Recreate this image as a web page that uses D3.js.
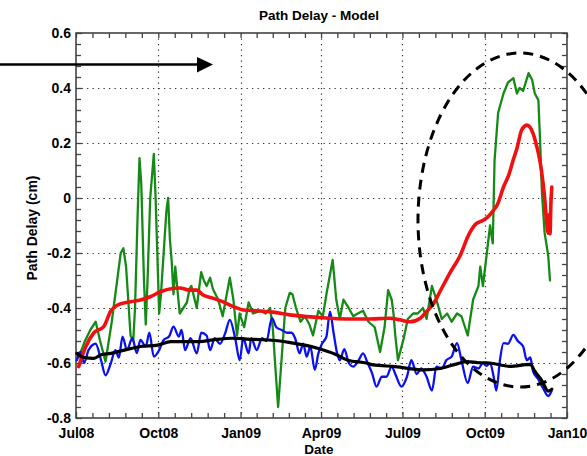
<!DOCTYPE html>
<html>
<head>
<meta charset="utf-8">
<script src="https://cdn.jsdelivr.net/npm/d3@7"></script>
<style>
  html, body { margin: 0; padding: 0; background: #fff; }
  svg { display: block; }
  text { font-family: "Liberation Sans", Arial, Helvetica, sans-serif; font-weight: bold; fill: #000; }
</style>
</head>
<body>
<svg id="chart" width="587" height="456"></svg>
<script>
// ---------- DATA (x = days since 2008-07-01, y = path delay in cm) ----------
const chartTitle = "Path Delay - Model";
const xAxisLabel = "Date";
const yAxisLabel = "Path Delay (cm)";
const xTickLabels = ["Jul08", "Oct08", "Jan09", "Apr09", "Jul09", "Oct09", "Jan10"];
const xTickDates = ["2008-07-01", "2008-10-01", "2009-01-01", "2009-04-01", "2009-07-01", "2009-10-01", "2010-01-01"];
const yTickValues = [-0.8, -0.6, -0.4, -0.2, 0, 0.2, 0.4, 0.6];
const yTickLabels = ["-0.8", "-0.6", "-0.4", "-0.2", "0", "0.2", "0.4", "0.6"];

const greenSeries = [
  [3,-0.58],[10,-0.52],[16,-0.48],[22,-0.45],[27,-0.52],[33,-0.595],[40,-0.45],[46,-0.30],[50,-0.20],[53,-0.183],
  [56,-0.25],[61,-0.50],[64,-0.52],[66,-0.40],[69,-0.05],[71,0.145],[73,0.05],[76,-0.30],[78,-0.46],[80,-0.30],
  [83,0.0],[87,0.16],[89,0.0],[93,-0.42],[95,-0.35],[98,-0.20],[101,-0.05],[103,0.0],[105,-0.15],[107,-0.23],
  [109,-0.35],[111,-0.25],[113,-0.32],[116,-0.42],[120,-0.40],[124,-0.38],[127,-0.33],[129,-0.32],[135,-0.40],
  [138,-0.32],[140,-0.27],[143,-0.30],[146,-0.32],[150,-0.29],[153,-0.33],[159,-0.37],[164,-0.43],[168,-0.36],
  [172,-0.29],[176,-0.37],[180,-0.50],[183,-0.42],[188,-0.47],[193,-0.38],[198,-0.42],[206,-0.41],[212,-0.42],
  [217,-0.40],[220,-0.47],[223,-0.62],[226,-0.76],[230,-0.58],[234,-0.40],[239,-0.345],[242,-0.35],[246,-0.40],
  [251,-0.45],[256,-0.43],[261,-0.46],[265,-0.50],[271,-0.41],[276,-0.43],[280,-0.35],[287,-0.225],[291,-0.37],
  [295,-0.44],[299,-0.37],[304,-0.395],[310,-0.43],[315,-0.42],[321,-0.41],[327,-0.45],[334,-0.47],[340,-0.56],
  [345,-0.47],[349,-0.335],[353,-0.37],[355,-0.42],[357,-0.50],[360,-0.59],[366,-0.516],[371,-0.44],[377,-0.42],
  [382,-0.42],[388,-0.40],[392,-0.44],[398,-0.32],[403,-0.37],[409,-0.44],[415,-0.42],[420,-0.45],[426,-0.42],
  [431,-0.43],[438,-0.50],[444,-0.37],[450,-0.32],[452,-0.25],[455,-0.32],[459,-0.21],[463,-0.10],[466,-0.165],
  [468,0.138],[472,0.31],[478,0.38],[483,0.42],[489,0.436],[493,0.38],[496,0.40],[500,0.39],[506,0.454],
  [510,0.43],[513,0.38],[517,0.356],[519,0.20],[521,0.018],[524,-0.127],[528,-0.21],[530,-0.30]
];

const blueSeries = [
  [1,-0.59],[5,-0.56],[9,-0.60],[14,-0.553],[22,-0.53],[28,-0.59],[33,-0.645],[39,-0.60],[44,-0.553],[48,-0.58],
  [52,-0.504],[57,-0.553],[63,-0.51],[68,-0.564],[72,-0.516],[78,-0.54],[82,-0.49],[87,-0.577],[93,-0.553],
  [98,-0.516],[104,-0.504],[109,-0.468],[115,-0.504],[118,-0.48],[122,-0.553],[128,-0.51],[135,-0.565],[140,-0.49],
  [146,-0.50],[150,-0.553],[155,-0.51],[161,-0.53],[167,-0.49],[172,-0.443],[178,-0.51],[183,-0.59],[187,-0.51],
  [193,-0.565],[196,-0.51],[202,-0.553],[208,-0.51],[213,-0.52],[219,-0.437],[224,-0.47],[230,-0.48],[236,-0.49],
  [241,-0.49],[245,-0.51],[250,-0.565],[254,-0.53],[258,-0.577],[262,-0.54],[267,-0.625],[271,-0.565],[275,-0.53],
  [280,-0.504],[284,-0.413],[288,-0.49],[292,-0.565],[295,-0.59],[300,-0.55],[305,-0.60],[310,-0.613],[316,-0.59],
  [321,-0.565],[326,-0.60],[331,-0.637],[336,-0.686],[342,-0.65],[347,-0.65],[353,-0.613],[357,-0.64],[364,-0.686],
  [370,-0.65],[375,-0.59],[381,-0.64],[386,-0.62],[392,-0.65],[398,-0.70],[403,-0.613],[409,-0.62],[414,-0.59],
  [420,-0.577],[426,-0.528],[431,-0.59],[438,-0.673],[444,-0.613],[450,-0.62],[455,-0.60],[459,-0.61],[463,-0.60],
  [467,-0.65],[470,-0.70],[474,-0.59],[478,-0.528],[483,-0.53],[489,-0.498],[494,-0.52],[500,-0.54],[504,-0.59],
  [508,-0.58],[511,-0.63],[517,-0.66],[522,-0.69],[528,-0.72],[532,-0.70]
];

const redSeries = [
  [3,-0.613],[11,-0.54],[20,-0.49],[31,-0.468],[39,-0.41],[46,-0.39],[61,-0.377],[72,-0.371],[83,-0.359],
  [95,-0.34],[110,-0.328],[116,-0.327],[127,-0.335],[135,-0.335],[142,-0.353],[153,-0.364],[164,-0.377],
  [176,-0.395],[187,-0.407],[202,-0.41],[220,-0.415],[239,-0.425],[270,-0.434],[308,-0.44],[326,-0.44],
  [351,-0.437],[362,-0.443],[373,-0.45],[385,-0.437],[392,-0.413],[400,-0.383],[407,-0.34],[418,-0.273],
  [429,-0.213],[440,-0.128],[448,-0.092],[452,-0.086],[459,-0.073],[467,-0.044],[471,-0.025],[478,0.04],
  [484,0.085],[489,0.14],[493,0.18],[498,0.245],[502,0.262],[504,0.265],[507,0.26],[511,0.235],[515,0.19],
  [519,0.13],[522,0.06],[524,0.0],[526,-0.08],[528,-0.128],[529,-0.06],[530,-0.13],[531,-0.02],[532,0.04]
];

const blackSeries = [
  [1,-0.565],[9,-0.58],[20,-0.583],[28,-0.57],[39,-0.565],[54,-0.553],[72,-0.54],[91,-0.535],[106,-0.522],
  [121,-0.522],[138,-0.522],[153,-0.516],[175,-0.51],[191,-0.513],[213,-0.516],[228,-0.52],[243,-0.528],
  [256,-0.535],[271,-0.547],[290,-0.568],[304,-0.59],[326,-0.601],[332,-0.607],[357,-0.613],[388,-0.625],
  [407,-0.62],[426,-0.603],[437,-0.595],[452,-0.599],[459,-0.599],[485,-0.612],[508,-0.605],[513,-0.63],
  [521,-0.665],[528,-0.702],[532,-0.695]
];

// ---------- LAYOUT ----------
const svg = d3.select("#chart");
const startDate = new Date(Date.UTC(2008, 6, 1));
const endDate = new Date(Date.UTC(2010, 0, 1));
const x = d3.scaleUtc().domain([startDate, endDate]).range([76, 567]);
const y = d3.scaleLinear().domain([-0.8, 0.6]).range([418, 33]);

const dayToDate = d => new Date(startDate.getTime() + d * 86400000);
const majorDates = xTickDates.map(s => new Date(s + "T00:00:00Z"));

// minor ticks (4 between majors)
const xMinor = [];
for (let i = 0; i < majorDates.length - 1; i++) {
  const a = majorDates[i].getTime(), b = majorDates[i + 1].getTime();
  for (let k = 1; k < 5; k++) xMinor.push(new Date(a + (b - a) * k / 5));
}
const yMinor = [];
for (let i = 0; i < yTickValues.length - 1; i++) {
  for (let k = 1; k < 5; k++) yMinor.push(yTickValues[i] + (yTickValues[i + 1] - yTickValues[i]) * k / 5);
}

const x0 = x.range()[0], x1 = x.range()[1], y0 = y.range()[0], y1 = y.range()[1];

// grid
const grid = svg.append("g").attr("stroke", "#333").attr("stroke-width", 1.2).attr("stroke-dasharray", "1.3,4.2");
grid.selectAll(".vg").data(majorDates.slice(1, -1)).join("line")
  .attr("x1", d => Math.round(x(d)) + 0.5).attr("x2", d => Math.round(x(d)) + 0.5)
  .attr("y1", y1).attr("y2", y0);
grid.selectAll(".hg").data(yTickValues.slice(1, -1)).join("line")
  .attr("y1", d => Math.round(y(d)) + 0.5).attr("y2", d => Math.round(y(d)) + 0.5)
  .attr("x1", x0).attr("x2", x1);

// axes with inward ticks (bottom/top/left/right)
const axisColor = "#444";
function styleAxis(g) {
  g.select(".domain").remove();
  g.selectAll("line").attr("stroke", axisColor).attr("stroke-width", 1.3);
}
const bottomMajor = d3.axisBottom(x).tickValues(majorDates).tickSize(-6).tickFormat((d, i) => xTickLabels[i]).tickPadding(10);
const gb = svg.append("g").attr("transform", `translate(0,${y0})`).call(bottomMajor);
gb.call(styleAxis);
gb.selectAll("text").attr("font-size", 14).attr("font-weight", "bold").attr("font-family", "Liberation Sans, Arial, sans-serif").attr("fill", "#000");
svg.append("g").attr("transform", `translate(0,${y0})`).call(d3.axisBottom(x).tickValues(xMinor).tickSize(-5).tickFormat("")).call(styleAxis);
svg.append("g").attr("transform", `translate(0,${y1})`).call(d3.axisTop(x).tickValues(majorDates.concat(xMinor)).tickSize(-5).tickFormat("")).call(styleAxis);

const leftMajor = d3.axisLeft(y).tickValues(yTickValues).tickSize(-6).tickFormat((d, i) => yTickLabels[i]).tickPadding(5);
const gl = svg.append("g").attr("transform", `translate(${x0},0)`).call(leftMajor);
gl.call(styleAxis);
gl.selectAll("text").attr("font-size", 14).attr("font-weight", "bold").attr("font-family", "Liberation Sans, Arial, sans-serif").attr("fill", "#000");
svg.append("g").attr("transform", `translate(${x0},0)`).call(d3.axisLeft(y).tickValues(yMinor).tickSize(-5).tickFormat("")).call(styleAxis);
svg.append("g").attr("transform", `translate(${x1},0)`).call(d3.axisRight(y).tickValues(yTickValues.concat(yMinor)).tickSize(-5).tickFormat("")).call(styleAxis);

// frame
svg.append("rect").attr("x", x0).attr("y", y1).attr("width", x1 - x0).attr("height", y0 - y1)
  .attr("fill", "none").attr("stroke", axisColor).attr("stroke-width", 1.6);

// series
function drawSeries(data, color, width, curve) {
  const line = d3.line().x(d => x(dayToDate(d[0]))).y(d => y(d[1])).curve(curve);
  svg.append("path").datum(data).attr("d", line).attr("fill", "none")
    .attr("stroke", color).attr("stroke-width", width).attr("stroke-linejoin", "round").attr("stroke-linecap", "round");
}
drawSeries(greenSeries, "#168a16", 2.3, d3.curveLinear);
drawSeries(blueSeries, "#0a10ee", 2.3, d3.curveMonotoneX);
drawSeries(redSeries, "#f01010", 3.6, d3.curveMonotoneX);
drawSeries(blackSeries, "#000", 3.2, d3.curveMonotoneX);

// annotations: arrow and dashed ellipse
svg.append("line").attr("x1", 0).attr("y1", 64.5).attr("x2", 199).attr("y2", 64.5)
  .attr("stroke", "#000").attr("stroke-width", 2.6);
svg.append("path").attr("d", "M197,57 L213,64.5 L197,72.5 Z").attr("fill", "#000");
svg.append("ellipse").attr("cx", 520).attr("cy", 220).attr("rx", 102).attr("ry", 167)
  .attr("fill", "none").attr("stroke", "#000").attr("stroke-width", 3).attr("stroke-dasharray", "10,7");

// titles
svg.append("text").attr("x", 319).attr("y", 20).attr("text-anchor", "middle").attr("font-size", 13.5).text(chartTitle);
svg.append("text").attr("x", 319).attr("y", 454).attr("text-anchor", "middle").attr("font-size", 13.5).text(xAxisLabel);
svg.append("text").attr("transform", "translate(37,228) rotate(-90)").attr("text-anchor", "middle").attr("font-size", 14).text(yAxisLabel);
</script>
</body>
</html>
